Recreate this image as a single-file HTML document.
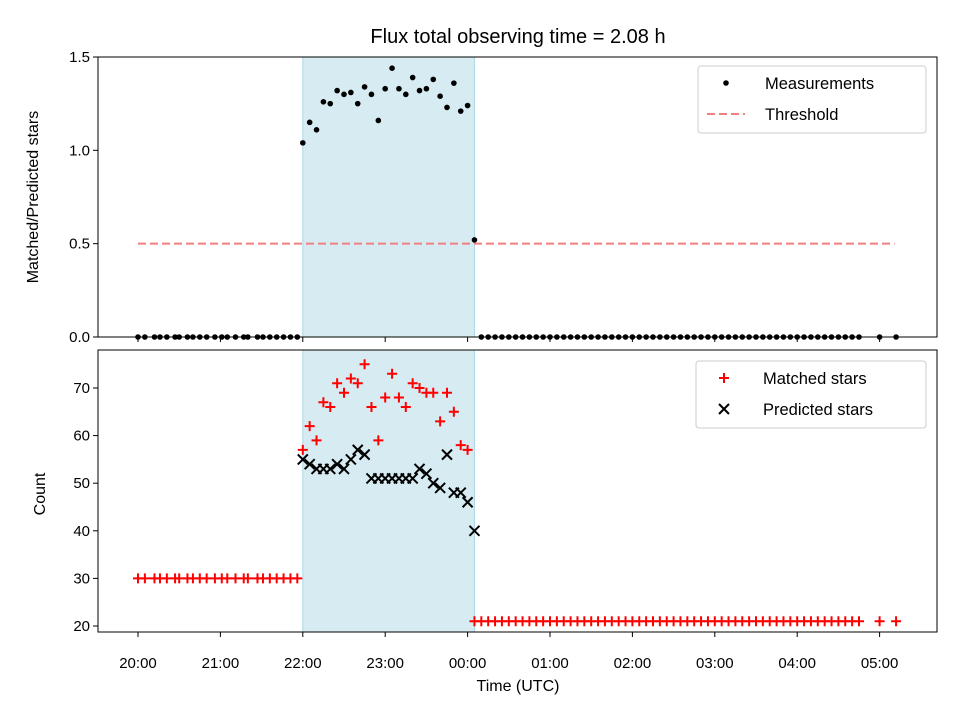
<!DOCTYPE html>
<html><head><meta charset="utf-8"><style>
body{margin:0;background:#fff}
svg{display:block;font-family:"Liberation Sans","DejaVu Sans",sans-serif}
</style></head><body>
<svg id="chart" width="960" height="720" xmlns="http://www.w3.org/2000/svg">
<rect width="960" height="720" fill="#fff"/>
<text x="518" y="43" font-size="20" text-anchor="middle">Flux total observing time = 2.08 h</text>
<g id="topPanel"></g>
<g id="botPanel"></g>
</svg>
<script>
// minutes since 20:00
const preTimes = [0,5,12,16,21,27,30,36,40,45,50,56,61,65,71,77,80,87,91,96,101,106,111,116];
const bandTimes = [120,125,130,135,140,145,150,155,160,165,170,175,180,185,190,195,200,205,210,215,220,225,230,235,240,245];
const postTimes = [250,255,260,265,270,275,280,285,290,295,300,305,310,315,320,325,330,335,340,345,350,355,360,365,370,375,380,385,390,395,400,405,410,415,420,425,430,435,440,445,450,455,460,465,470,475,480,485,490,495,500,505,510,515,520,525,540,552];
const bandRatio = [1.04,1.15,1.11,1.26,1.25,1.32,1.30,1.31,1.25,1.34,1.30,1.16,1.33,1.44,1.33,1.30,1.39,1.32,1.33,1.38,1.29,1.23,1.36,1.21,1.24,0.52];
const bandMatched = [57,62,59,67,66,71,69,72,71,75,66,59,68,73,68,66,71,70,69,69,63,69,65,58,57,21];
const bandPredicted = [55,54,53,53,53,54,53,55,57,56,51,51,51,51,51,51,51,53,52,50,49,56,48,48,46,40];
const preMatched = 30, postMatched = 21;
const xTicks = ["20:00","21:00","22:00","23:00","00:00","01:00","02:00","03:00","04:00","05:00"];
const topTicks = [0,0.5,1.0,1.5];
const botTicks = [20,30,40,50,60,70];
const threshold = 0.5, thrStart = 0, thrEnd = 551;
const bandStart = 120, bandEnd = 245;

const NS="http://www.w3.org/2000/svg";
const L=98,R=937;
const X=m=>138+m*(82.4/60);
const YT=v=>337-v*(280/1.5);
const YB=v=>626-(v-20)*(238/50);
function mk(p,t,a){const e=document.createElementNS(NS,t);for(const k in a)e.setAttribute(k,a[k]);p.appendChild(e);return e;}
const gTop=document.getElementById('topPanel'),gBot=document.getElementById('botPanel');

function panel(g,y0,y1,name){
  const b=mk(g,'rect',{x:X(bandStart),y:y0,width:X(bandEnd)-X(bandStart),height:y1-y0,fill:'#add8e6','fill-opacity':0.5,stroke:'#add8e6'});
  
  
}
panel(gTop,57,337,'top');panel(gBot,350,632,'bottom');

const thr=mk(gTop,'line',{x1:X(thrStart),x2:X(thrEnd),y1:YT(threshold),y2:YT(threshold),stroke:'#f08080','stroke-width':2,'stroke-dasharray':'8 4'});


const allT=[...preTimes.map(t=>[t,0]),...bandTimes.map((t,i)=>[t,bandRatio[i]]),...postTimes.map(t=>[t,0])];
allT.forEach(([t,v])=>{const c=mk(gTop,'circle',{cx:X(t),cy:YT(v),r:2.8,fill:'#000'});

});

function plus(g,x,y){const p=mk(g,'path',{d:`M${x-5} ${y}H${x+5}M${x} ${y-5}V${y+5}`,stroke:'red','stroke-width':2});

}
function cross(g,x,y){const p=mk(g,'path',{d:`M${x-5} ${y-5}L${x+5} ${y+5}M${x-5} ${y+5}L${x+5} ${y-5}`,stroke:'#000','stroke-width':2});

}
preTimes.forEach(t=>plus(gBot,X(t),YB(preMatched)));
bandTimes.forEach((t,i)=>plus(gBot,X(t),YB(bandMatched[i])));
postTimes.forEach(t=>plus(gBot,X(t),YB(postMatched)));
bandTimes.forEach((t,i)=>cross(gBot,X(t),YB(bandPredicted[i])));

function frame(g,y0,y1){mk(g,'rect',{x:L,y:y0,width:R-L,height:y1-y0,fill:'none',stroke:'#000','stroke-width':1});}
frame(gTop,57,337);frame(gBot,350,632);
xTicks.forEach((s,i)=>{const x=X(i*60);
 mk(gTop,'line',{x1:x,x2:x,y1:337,y2:342,stroke:'#000'});
 mk(gBot,'line',{x1:x,x2:x,y1:632,y2:637,stroke:'#000'});
 const t=mk(gBot,'text',{x:x,y:668,'font-size':15,'text-anchor':'middle'});t.textContent=s;
 
 });
topTicks.forEach(v=>{const y=YT(v);mk(gTop,'line',{x1:93,x2:98,y1:y,y2:y,stroke:'#000'});
 const t=mk(gTop,'text',{x:90,y:y+5,'font-size':15,'text-anchor':'end'});t.textContent=v.toFixed(1);
 
 });
botTicks.forEach(v=>{const y=YB(v);mk(gBot,'line',{x1:93,x2:98,y1:y,y2:y,stroke:'#000'});
 const t=mk(gBot,'text',{x:90,y:y+5,'font-size':15,'text-anchor':'end'});t.textContent=v;
 
 });
let t=mk(gBot,'text',{x:518,y:691,'font-size':16,'text-anchor':'middle'});t.textContent='Time (UTC)';


t=mk(gTop,'text',{x:0,y:0,'font-size':16,'text-anchor':'middle',transform:'translate(38,197) rotate(-90)'});t.textContent='Matched/Predicted stars';


t=mk(gBot,'text',{x:0,y:0,'font-size':16,'text-anchor':'middle',transform:'translate(45,494) rotate(-90)'});t.textContent='Count';



function legend(g,x,y,w,items){const r=mk(g,'rect',{x:x,y:y,width:w,height:67,rx:3,fill:'#fff','fill-opacity':0.8,stroke:'#ccc'});
 
 
 items.forEach((it,i)=>{const cy=y+17+i*31;it[0](x+28,cy);
  const tx=mk(g,'text',{x:x+67,y:cy+6,'font-size':16.5});tx.textContent=it[1];
  
  });}
legend(gTop,698,66,228,[[(x,y)=>mk(gTop,'circle',{cx:x,cy:y,r:2.8,fill:'#000'}),'Measurements'],
 [(x,y)=>mk(gTop,'line',{x1:x-19,x2:x+19,y1:y,y2:y,stroke:'#f08080','stroke-width':2,'stroke-dasharray':'8 4'}),'Threshold']]);
legend(gBot,696,361,230,[[(x,y)=>plus(gBot,x,y),'Matched stars'],[(x,y)=>cross(gBot,x,y),'Predicted stars']]);
</script>
</body></html>
